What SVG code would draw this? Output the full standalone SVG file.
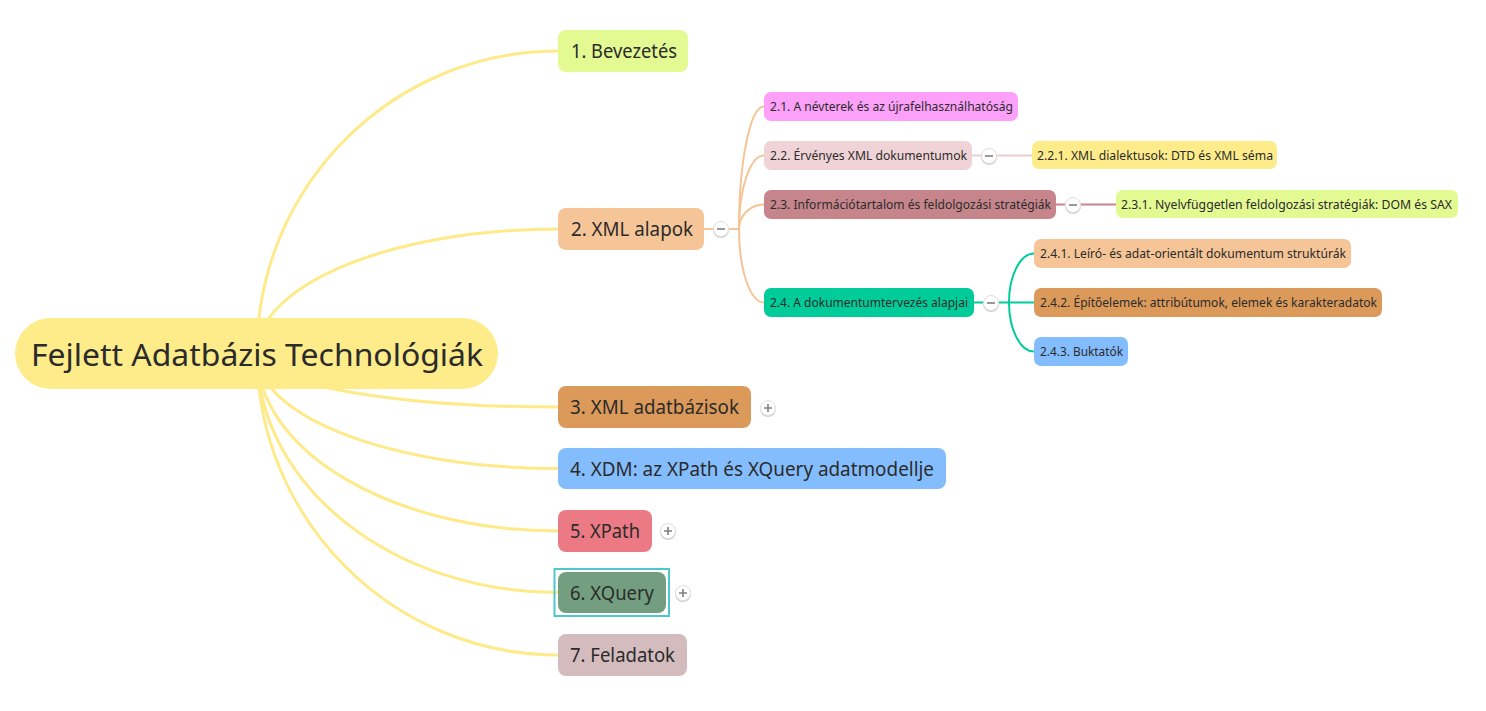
<svg xmlns="http://www.w3.org/2000/svg" width="1486" height="711" viewBox="0 0 1486 711">
<defs>
<style>
text{font-family:"Noto Sans","Open Sans","Liberation Sans",sans-serif;fill:#2b2b2b}
.t1{font-size:19px}
.t2{font-size:12.5px}
.root{font-size:31px}
.c0{fill:none;stroke:#FFEA8A;stroke-width:3;stroke-linecap:round}
.c2{fill:none;stroke:#F5C497;stroke-width:2}
.c22{fill:none;stroke:#EBCDD0;stroke-width:2}
.c23{fill:none;stroke:#C6858B;stroke-width:2}
.c24{fill:none;stroke:#00CC99;stroke-width:2}
.btn .sh{fill:#d0d0d0;stroke:none}
.btn .fc{fill:#fff;stroke:#e0e0e0;stroke-width:1}
.btn path{stroke:#808080;stroke-width:1.6;fill:none}
</style>
</defs>
<rect width="1486" height="711" fill="#fff"/>
<g id="connectors">
<path class="c0" d="M257 353 C257 186.3 392 51 558 51"/>
<path class="c0" d="M257 353 C257 284.6 392 229 558 229"/>
<path class="c0" d="M257 353 C257 382.8 392 407 558 407"/>
<path class="c0" d="M257 353 C257 416.8 392 468.5 558 468.5"/>
<path class="c0" d="M257 353 C257 451.3 392 531 558 531"/>
<path class="c0" d="M257 353 C257 485.2 392 592.5 558 592.5"/>
<path class="c0" d="M257 353 C257 519.7 392 655 558 655"/>
<path class="c2" d="M704 229 H739"/>
<path class="c2" d="M739 229 C739 161.4 750.2 106.5 764 106.5"/>
<path class="c2" d="M739 229 C739 188.4 750.2 155.5 764 155.5"/>
<path class="c2" d="M739 229 C739 215.5 750.2 204.5 764 204.5"/>
<path class="c2" d="M739 229 C739 269.6 750.2 302.5 764 302.5"/>
<path class="c22" d="M972 155.5 H1032"/>
<path class="c23" d="M1056 204.5 H1116"/>
<path class="c24" d="M974 302.5 H1009"/>
<path class="c24" d="M1009 302.5 C1009 275.5 1020.2 253.5 1034 253.5"/>
<path class="c24" d="M1009 302.5 H1034"/>
<path class="c24" d="M1009 302.5 C1009 329.5 1020.2 351.5 1034 351.5"/>
</g>
<g id="root">
<rect x="15" y="318" width="483" height="71" rx="35.5" fill="#FEEC8A"/>
<text class="root" x="31" y="366" textLength="452" lengthAdjust="spacingAndGlyphs">Fejlett Adatbázis Technológiák</text>
</g>
<g id="n1">
<rect x="558" y="30" width="130" height="42" rx="8" fill="#E3F992"/>
<text class="t1" x="571" y="58" textLength="106" lengthAdjust="spacingAndGlyphs">1. Bevezetés</text>
</g>
<g id="n2">
<rect x="558" y="208" width="146" height="42" rx="8" fill="#F5C497"/>
<text class="t1" x="571" y="236" textLength="122" lengthAdjust="spacingAndGlyphs">2. XML alapok</text>
<g class="btn"><circle class="sh" cx="721" cy="230" r="8"/><circle class="fc" cx="721" cy="229" r="7.5"/><path d="M717 229 H725"/></g>
</g>
<g id="n3">
<rect x="558" y="386" width="193" height="42" rx="8" fill="#DC9A5A"/>
<text class="t1" x="570" y="414" textLength="169" lengthAdjust="spacingAndGlyphs">3. XML adatbázisok</text>
<g class="btn"><circle class="sh" cx="768" cy="409" r="8"/><circle class="fc" cx="768" cy="408" r="7.5"/><path d="M764 408 H772 M768 404 V412"/></g>
</g>
<g id="n4">
<rect x="558" y="448" width="388" height="41" rx="8" fill="#84BDFD"/>
<text class="t1" x="570" y="476" textLength="364" lengthAdjust="spacingAndGlyphs">4. XDM: az XPath és XQuery adatmodellje</text>
</g>
<g id="n5">
<rect x="558" y="510" width="94" height="42" rx="8" fill="#EC7A84"/>
<text class="t1" x="570" y="538" textLength="70" lengthAdjust="spacingAndGlyphs">5. XPath</text>
<g class="btn"><circle class="sh" cx="668" cy="532" r="8"/><circle class="fc" cx="668" cy="531" r="7.5"/><path d="M664 531 H672 M668 527 V535"/></g>
</g>
<g id="n6">
<rect x="554.5" y="569" width="114.5" height="47" fill="none" stroke="#4CC8CC" stroke-width="2"/>
<rect x="558" y="572" width="108" height="41" rx="8" fill="#739F80"/>
<text class="t1" x="570" y="600" textLength="84" lengthAdjust="spacingAndGlyphs">6. XQuery</text>
<g class="btn"><circle class="sh" cx="683" cy="594" r="8"/><circle class="fc" cx="683" cy="593" r="7.5"/><path d="M679 593 H687 M683 589 V597"/></g>
</g>
<g id="n7">
<rect x="558" y="634" width="129" height="42" rx="8" fill="#D4BCBE"/>
<text class="t1" x="570" y="662" textLength="105" lengthAdjust="spacingAndGlyphs">7. Feladatok</text>
</g>
<g id="n21">
<rect x="764" y="92" width="254" height="29" rx="7" fill="#FCA0F9"/>
<text class="t2" x="770" y="111" textLength="243" lengthAdjust="spacingAndGlyphs">2.1. A névterek és az újrafelhasználhatóság</text>
</g>
<g id="n22">
<rect x="764" y="141" width="208" height="29" rx="7" fill="#F0D3D6"/>
<text class="t2" x="770" y="160" textLength="197" lengthAdjust="spacingAndGlyphs">2.2. Érvényes XML dokumentumok</text>
<g class="btn"><circle class="sh" cx="989" cy="157" r="8"/><circle class="fc" cx="989" cy="156" r="7.5"/><path d="M985 156 H993"/></g>
</g>
<g id="n23">
<rect x="764" y="190" width="292" height="29" rx="7" fill="#C6858B"/>
<text class="t2" x="770" y="209" textLength="281" lengthAdjust="spacingAndGlyphs">2.3. Információtartalom és feldolgozási stratégiák</text>
<g class="btn"><circle class="sh" cx="1073" cy="206" r="8"/><circle class="fc" cx="1073" cy="205" r="7.5"/><path d="M1069 205 H1077"/></g>
</g>
<g id="n24">
<rect x="764" y="288" width="210" height="29" rx="7" fill="#00CC99"/>
<text class="t2" x="770" y="307" textLength="198" lengthAdjust="spacingAndGlyphs">2.4. A dokumentumtervezés alapjai</text>
<g class="btn"><circle class="sh" cx="991" cy="304" r="8"/><circle class="fc" cx="991" cy="303" r="7.5"/><path d="M987 303 H995"/></g>
</g>
<g id="n221">
<rect x="1032" y="141" width="245" height="28" rx="7" fill="#FEEC8A"/>
<text class="t2" x="1037" y="160" textLength="236" lengthAdjust="spacingAndGlyphs">2.2.1. XML dialektusok: DTD és XML séma</text>
</g>
<g id="n231">
<rect x="1116" y="190" width="342" height="28" rx="7" fill="#E3F992"/>
<text class="t2" x="1121" y="209" textLength="331" lengthAdjust="spacingAndGlyphs">2.3.1. Nyelvfüggetlen feldolgozási stratégiák: DOM és SAX</text>
</g>
<g id="n241">
<rect x="1034" y="239" width="317" height="29" rx="7" fill="#F5C497"/>
<text class="t2" x="1040" y="258" textLength="306" lengthAdjust="spacingAndGlyphs">2.4.1. Leíró- és adat-orientált dokumentum struktúrák</text>
</g>
<g id="n242">
<rect x="1034" y="288" width="348" height="29" rx="7" fill="#DC9A5A"/>
<text class="t2" x="1040" y="307" textLength="337" lengthAdjust="spacingAndGlyphs">2.4.2. Építőelemek: attribútumok, elemek és karakteradatok</text>
</g>
<g id="n243">
<rect x="1034" y="337" width="94" height="29" rx="7" fill="#84BDFD"/>
<text class="t2" x="1040" y="356" textLength="83" lengthAdjust="spacingAndGlyphs">2.4.3. Buktatók</text>
</g>
</svg>
